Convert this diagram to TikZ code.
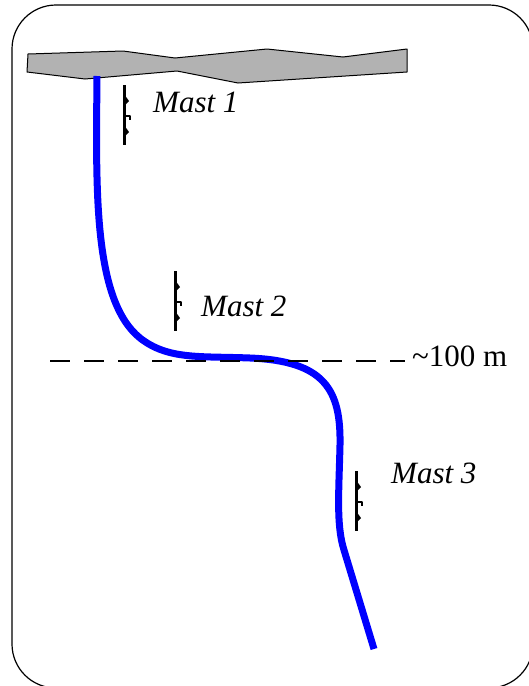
\documentclass[tikz,border=0pt]{standalone}
\usepackage{fontspec}
\setmainfont{Liberation Serif}
\begin{document}
\begin{tikzpicture}[x=1pt,y=-1pt,line join=round,
  label/.style={font=\fontsize{31}{36}\selectfont\itshape,inner sep=0pt,anchor=base west},
  mastline/.style={line width=3pt},
  cable/.style={blue,line width=7pt}]
\useasboundingbox (0,0) rectangle (528,686);

% frame
\draw[line width=1.2pt,rounded corners=44pt] (12,5) rectangle (533,688);

% surface
\draw[fill=black!30,line width=1pt] (28,54)--(123,51)--(175,58)--(267,49)--(343,57)--(407,49)
  --(407,72)--(238,83)--(177,71)--(85,79)--(27,72)--cycle;

% cable
\draw[cable] (97,76) .. controls (96,190) and (93,300) .. (140,338)
  .. controls (168,360) and (200,356) .. (250,358)
  .. controls (325,361) and (341,390) .. (340,445)
  .. controls (339,490) and (336,525) .. (344,550) -- (374,649);

% depth
\coordinate (lvlL) at (50,361);
\coordinate (lvlR) at (405,361);
\draw[line width=1.5pt,dash pattern=on 20pt off 14pt] (lvlL)--(lvlR);
\node[label,font=\fontsize{31}{36}\selectfont] (depth) at (412,366) {\textasciitilde100 m};

% masts
\foreach \mx/\my [count=\i] in {124/85, 175/271, 356/471}{
\begin{scope}[shift={(\mx,\my)}]
\draw[mastline] (0,0)--(0,60);
\fill (0,9)--(5,16)--(0,21)--cycle;
\fill (0,40)--(5,47)--(0,52)--cycle;
\draw[line width=1.2pt] (1,31)--(6,31)--(6,35);
\end{scope}
}
\node[label] (mast1) at (153,112) {Mast 1};
\node[label] (mast2) at (201,316) {Mast 2};
\node[label] (mast3) at (391,483) {Mast 3};
\end{tikzpicture}
\end{document}
